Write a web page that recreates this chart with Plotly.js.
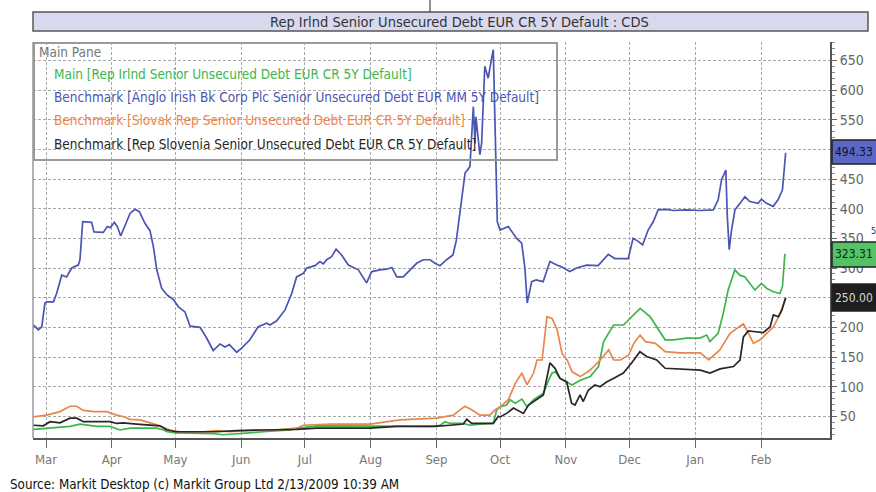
<!DOCTYPE html>
<html>
<head>
<meta charset="utf-8">
<script src="https://cdn.plot.ly/plotly-3.0.1.min.js"></script>
<style>html,body{margin:0;padding:0;background:#fff;}#chart{width:876px;height:492px;}</style>
</head>
<body>
<div id="chart"></div>
<script>
// x = days since 1 Mar 2008
const monthLabels = ["Mar","Apr","May","Jun","Jul","Aug","Sep","Oct","Nov","Dec","Jan","Feb"];
const monthDays = [0,31,61,92,122,153,184,214,245,275,306,337];
const yTicks = [50,100,150,200,250,300,350,400,450,500,550,600,650];
const yTickText = ["50","100","150","200","","300","350","400","450","","550","600","650"];

const seriesNames = [
  "Main [Rep Irlnd Senior Unsecured Debt EUR CR 5Y Default]",
  "Benchmark [Anglo Irish Bk Corp Plc Senior Unsecured Debt EUR MM 5Y Default]",
  "Benchmark [Slovak Rep Senior Unsecured Debt EUR CR 5Y Default]",
  "Benchmark [Rep Slovenia Senior Unsecured Debt EUR CR 5Y Default]"
];
const lastValues = ["323.31","494.33","250.00"];

const blueDays = [-6,-3.6,-2,-0.5,0.3,3.5,5,7.4,9.7,12.1,15.2,16,17.3,21.5,22.6,27,28.9,30.2,32.2,33.6,35.2,37.2,39.6,41.9,44,46.7,49,50.6,52.2,54.5,56.9,60,62.3,65.5,67.9,72.6,75.7,78.8,82,84.4,86.4,89.9,92.2,96.1,100,104,105.6,108.7,112.6,115.8,118.1,121.3,122.9,126.8,129.1,130.7,132.3,134.6,136.7,139.3,142.5,147.2,148.8,151.1,153.5,157.4,160.6,163,165.3,168.4,170.8,174.7,177.8,181,183.3,185.7,188.8,191.8,193.4,195.1,197.5,199.8,201.4,202.2,202.6,204.5,205.3,206.8,208.4,209.6,210.8,211.1,212,212.7,214,217.9,221.8,224.2,225.7,226.8,228.9,231,234.3,237.5,240.7,243,246.9,250.1,254.8,260.2,265,268.1,274.4,276.7,279.1,281.2,283.8,286.2,288.5,292.5,295.6,301.9,308.2,314.5,316.8,318.4,320.4,321.1,322,323.1,324.7,327,329.4,331.7,335.6,337.2,339.6,342.7,345,347.1,348.2,348.6];
const blueVals = [204,196,201,241,243,243,257,288,285,300,305,314,378,377,361,360,370,368,377,370,354,370,392,399,395,375,363,336,297,266,255,247,235,226,202,200,182,161,172,167,171,158,165,179,201,207,204,211,229,257,285,291,300,304,311,307,314,319,332,322,305,297,288,275,294,297,298,301,285,285,294,308,314,314,308,304,314,322,347,395,460,471,572,510,555,491,510,640,620,645,668,623,460,378,364,370,350,342,300,241,277,280,277,311,305,302,294,300,305,304,323,316,316,350,345,339,364,378,398,399,397,398,397,398,415,449,465,387,331,364,398,409,420,412,409,416,409,404,415,432,482,494.33];

const greenDays = [-6,0.3,11.3,16,23.9,30.2,34.9,39.6,52.2,55.4,57,61.7,78.9,83.4,92.9,102.4,115,119.1,127.6,151.1,176.3,182.3,185.7,188.1,190.4,196.7,199.8,204.5,210.8,212.4,214,217.1,218.7,221.2,224.3,226.7,229.8,232.2,234.5,236.9,238.5,240,242.4,245.5,247.9,251.8,256.5,260.4,262.8,267.5,272.2,276.1,280,284.7,291.8,295.7,302,308.2,311.4,312.9,316.8,319.2,321.5,324.7,327,329.4,334.1,337.2,339.6,342.7,345.9,347.1,348.2,348.6];
const greenVals = [28,30,33,37,33,33,27,30,30,27,24,22,21,19,21,24,27,30,34,34,34,33,35,41,38,38,35,37,38,61,66,69,78,72,79,66,78,83,89,111,123,125,114,108,103,111,117,134,176,204,204,218,232,218,179,179,182,182,187,176,190,224,263,297,288,285,263,274,266,260,257,269,322,323.31];

const orangeDays = [-6,0.3,6.6,11.3,14.5,17.6,22.3,28.6,33.3,37.2,39.6,44.3,49,53.7,58.4,63.1,74.1,80.4,86.7,99.3,108.7,118.1,121.3,133.9,152.7,166.8,184.1,187.2,192,195.1,197.5,200.6,204.5,209.2,211.6,214,217.9,221.2,224.3,226.7,229.8,231.4,233.8,236.1,238.5,240.9,243.2,245.6,248,251.8,256.5,261.2,265.2,267.5,270.7,274.6,277,280,282.5,287.2,291.8,298.9,308.4,312.3,317.6,322.4,325.5,328.7,331.1,333.4,336.6,339.8,342.9,346.1,348.6];
const orangeVals = [49,52,58,67,67,60,58,58,52,49,45,44,39,34,27,24,24,26,24,27,27,30,35,37,37,44,47,49,52,61,67,61,52,52,61,66,78,106,123,103,123,145,145,218,215,196,156,145,125,117,128,145,162,145,145,153,173,187,176,173,159,157,157,145,162,190,198,206,190,173,179,190,201,224,250];

const blackDays = [-6,-1.3,1.9,6.6,11.3,14.5,17.6,30.2,33.3,36.4,42.7,49,53.7,56.9,61.6,80.4,89.8,102.4,118.1,127.6,152.7,165.3,182.6,190.4,196.7,198.3,200.6,210.8,213.2,214,217.1,220.3,225,227.4,231.3,234.4,237.5,239.9,242.2,245.4,247.7,249.3,251.7,253.2,255.6,258.7,261.1,264.2,267.4,272.1,276,279.9,283.1,287.8,291.8,298.9,308.4,312.9,317.7,324,327.1,328.7,331,333.4,338.1,341.3,342.8,345.2,346.8,348.6];
const blackVals = [35,34,41,39,47,47,41,41,38,39,37,35,34,27,24,24,26,27,28,30,30,33,33,35,37,45,38,38,50,49,55,64,55,69,78,86,140,131,114,108,72,69,86,75,94,103,100,108,114,123,140,159,151,145,131,130,128,123,130,134,145,184,194,193,191,201,221,218,229,250];

const FONT = "'Liberation Sans Narrow','DejaVu Sans Condensed','Arial Narrow',sans-serif";
const BLUE = "#4a55b4", GREEN = "#3cb64c", ORANGE = "#e8864e", BLACK = "#262626";

function tr(x, y, color, name) {
  return {x: x, y: y, type: "scatter", mode: "lines", name: name,
          line: {color: color, width: 1.7}, hoverinfo: "skip"};
}
const data = [
  tr(greenDays, greenVals, GREEN, seriesNames[0]),
  tr(orangeDays, orangeVals, ORANGE, seriesNames[2]),
  tr(blackDays, blackVals, BLACK, seriesNames[3]),
  tr(blueDays, blueVals, BLUE, seriesNames[1])
];

// paper helpers: plot spans px 33..830 horizontally, 42..438 vertically
const PX = p => (p - 33) / 797;
const PY = p => (438 - p) / 396;

const legendLines = [
  {t: "Main Pane", c: "#777", x: 37, y: 52},
  {t: seriesNames[0], c: GREEN, x: 52, y: 74},
  {t: seriesNames[1], c: BLUE, x: 52, y: 97},
  {t: seriesNames[2], c: ORANGE, x: 52, y: 120},
  {t: seriesNames[3], c: BLACK, x: 52, y: 144}
];

const annotations = legendLines.map(l => ({
  xref: "paper", yref: "paper", x: PX(l.x), y: PY(l.y), xanchor: "left", yanchor: "middle",
  text: l.t, showarrow: false, font: {family: FONT, size: 13.5, color: l.c}
}));
annotations.push({xref: "paper", yref: "paper", x: PX(459), y: PY(21.5), xanchor: "center", yanchor: "middle",
  text: "Rep Irlnd Senior Unsecured Debt EUR CR 5Y Default : CDS", showarrow: false,
  font: {family: FONT, size: 14.5, color: "#333"}});
annotations.push({xref: "paper", yref: "paper", x: PX(8), y: PY(484), xanchor: "left", yanchor: "middle",
  text: "Source: Markit Desktop (c) Markit Group Ltd 2/13/2009 10:39 AM", showarrow: false,
  font: {family: FONT, size: 13.3, color: "#111"}});
const boxes = [
  {t: lastValues[1], fill: "#5c66c4", tc: "#101030", y0: 140, y1: 164},
  {t: lastValues[0], fill: "#56c266", tc: "#0b2a10", y0: 242, y1: 267},
  {t: lastValues[2], fill: "#1e1e1e", tc: "#d8d8d8", y0: 284, y1: 311}
];
const shapes = [];
boxes.forEach(b => {
  shapes.push({type: "rect", xref: "paper", yref: "paper", x0: PX(832), x1: PX(884), y0: PY(b.y1), y1: PY(b.y0),
    fillcolor: b.fill, line: {color: "#222", width: 1.5}, layer: "above"});
  annotations.push({xref: "paper", yref: "paper", x: PX(834), y: PY((b.y0 + b.y1) / 2), xanchor: "left", yanchor: "middle",
    text: b.t, showarrow: false, borderpad: 0, font: {family: FONT, size: 12, color: b.tc}});
});
annotations.push({xref: "paper", yref: "paper", x: PX(870), y: PY(231), xanchor: "left", yanchor: "middle",
  text: "5", showarrow: false, borderpad: 0, font: {family: FONT, size: 9, color: "#333"}});

// title bar
shapes.push({type: "rect", xref: "paper", yref: "paper", x0: PX(33), x1: PX(868), y0: PY(31), y1: PY(12),
  fillcolor: "#d8d8ee", line: {color: "#555", width: 1.5}, layer: "below"});
// legend frame
shapes.push({type: "rect", xref: "paper", yref: "paper", x0: PX(34), x1: PX(557), y0: PY(160), y1: PY(43),
  fillcolor: "rgba(0,0,0,0)", line: {color: "#9a9a9a", width: 2}, layer: "above"});
// left border
shapes.push({type: "line", xref: "paper", yref: "paper", x0: 0, x1: 0, y0: 0, y1: 1,
  line: {color: "#999", width: 1.5}});
// stray tick at top
shapes.push({type: "line", xref: "paper", yref: "paper", x0: PX(430), x1: PX(430), y0: PY(0), y1: PY(12),
  line: {color: "#222", width: 1}});

const layout = {
  width: 876, height: 492,
  margin: {l: 33, r: 46, t: 42, b: 54},
  paper_bgcolor: "#fff", plot_bgcolor: "#fff",
  showlegend: false,
  font: {family: FONT},
  xaxis: {
    range: [-6.13, 369.5], tickmode: "array", tickvals: monthDays, ticktext: monthLabels,
    ticks: "outside", ticklen: 8, tickcolor: "#666", tickwidth: 1,
    showgrid: true, gridcolor: "#a8a8a8", griddash: "3px,2px", gridwidth: 1,
    showline: true, linecolor: "#555", linewidth: 2, zeroline: false,
    tickfont: {family: FONT, size: 13, color: "#777"}
  },
  yaxis: {
    side: "right", range: [13.5, 681], tickmode: "array", tickvals: yTicks, ticktext: yTickText,
    ticks: "outside", ticklen: 5, tickcolor: "#666",
    minor: {ticks: "outside", ticklen: 3, dtick: 10, tick0: 0, tickcolor: "#888", showgrid: false},
    showgrid: true, gridcolor: "#a8a8a8", griddash: "3px,2px", gridwidth: 1,
    showline: true, linecolor: "#555", linewidth: 2, zeroline: false,
    tickfont: {family: FONT, size: 14, color: "#666"}
  },
  shapes: shapes,
  annotations: annotations
};

Plotly.newPlot("chart", data, layout, {staticPlot: true, displayModeBar: false});
</script>
</body>
</html>
